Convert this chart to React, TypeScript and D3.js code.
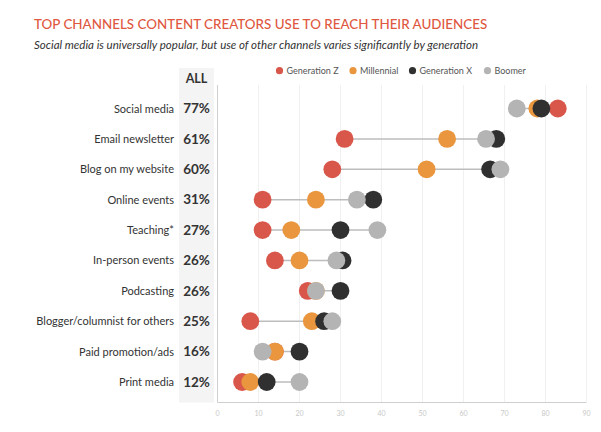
import React from "react";
import * as d3 from "d3";

const categories = [
  "Social media",
  "Email newsletter",
  "Blog on my website",
  "Online events",
  "Teaching*",
  "In-person events",
  "Podcasting",
  "Blogger/columnist for others",
  "Paid promotion/ads",
  "Print media",
];
const allValues = [77, 61, 60, 31, 27, 26, 26, 25, 16, 12];
const genZ = [83, 31, 28, 11, 11, 14, 22, 8, 14, 6];
const millennial = [78, 56, 51, 24, 18, 20, 24, 23, 14, 8];
const genX = [79, 68, 66.5, 38, 30, 30.5, 30, 26, 20, 12];
const boomer = [73, 65.5, 69, 34, 39, 29, 24, 28, 11, 20];
const seriesNames = ["Generation Z", "Millennial", "Generation X", "Boomer"];
const seriesColors = ["#d9574a", "#e9963e", "#2f302f", "#b3b4b3"];
const xTicks = [0, 10, 20, 30, 40, 50, 60, 70, 80, 90];

export default function App() {
  const W = 601;
  const H = 432;
  const x = d3.scaleLinear().domain([0, 90]).range([217.5, 586.5]);
  const y = d3
    .scalePoint<string>()
    .domain(categories)
    .range([108.5, 382]);
  const series = [genZ, millennial, genX, boomer];
  const font = "Lato, 'Open Sans', sans-serif";
  const legendX = [279.5, 353, 412.5, 487.5];

  return (
    <svg
      width={W}
      height={H}
      style={{ position: "absolute", left: 0, top: 0, background: "#fff" }}
      fontFamily={font}
    >
      <text x={34} y={29} fill="#e0583f" fontSize={13.4} fontWeight={500}>
        TOP CHANNELS CONTENT CREATORS USE TO REACH THEIR AUDIENCES
      </text>
      <text x={34} y={48.5} fill="#333" fontSize={11.5} fontStyle="italic">
        Social media is universally popular, but use of other channels varies significantly by generation
      </text>

      {/* legend */}
      {seriesNames.map((n, i) => (
        <g key={n}>
          <circle cx={legendX[i]} cy={70.7} r={3.6} fill={seriesColors[i]} />
          <text x={legendX[i] + 7} y={73.9} fontSize={9} fill="#555">
            {n}
          </text>
        </g>
      ))}

      {/* ALL column background */}
      <rect x={179} y={68} width={35} height={334.5} fill="#f3f4f3" />
      <text x={196.5} y={83} textAnchor="middle" fontSize={12.5} fontWeight={700} fill="#333">
        ALL
      </text>

      {/* gridlines */}
      {xTicks.slice(1).map((t) => (
        <line key={t} x1={x(t)} x2={x(t)} y1={85} y2={402} stroke="#ececec" strokeWidth={0.8} />
      ))}
      {/* axes */}
      <line x1={x(0)} x2={x(0)} y1={85} y2={402.5} stroke="#cfcfcf" strokeWidth={1} />
      <line x1={x(0)} x2={x(90)} y1={402.5} y2={402.5} stroke="#cfcfcf" strokeWidth={1} />
      {xTicks.map((t) => (
        <text key={t} x={x(t)} y={415.5} textAnchor="middle" fontSize={7} fill="#c8c8c8">
          {t}
        </text>
      ))}

      {/* rows */}
      {categories.map((c, i) => {
        const vals = series.map((s) => s[i]);
        const lo = d3.min(vals) as number;
        const hi = d3.max(vals) as number;
        const cy = y(c) as number;
        return (
          <g key={c}>
            <text x={174} y={cy + 4} textAnchor="end" fontSize={11} fill="#333">
              {c}
            </text>
            <text x={196.5} y={cy + 4.8} textAnchor="middle" fontSize={13.5} fontWeight={700} fill="#333">
              {allValues[i]}%
            </text>
            <line x1={x(lo)} x2={x(hi)} y1={cy} y2={cy} stroke="#bdbdbd" strokeWidth={1.5} />
            {series.map((s, k) => (
              <circle key={k} cx={x(s[i])} cy={cy} r={8.9} fill={seriesColors[k]} />
            ))}
          </g>
        );
      })}
    </svg>
  );
}
